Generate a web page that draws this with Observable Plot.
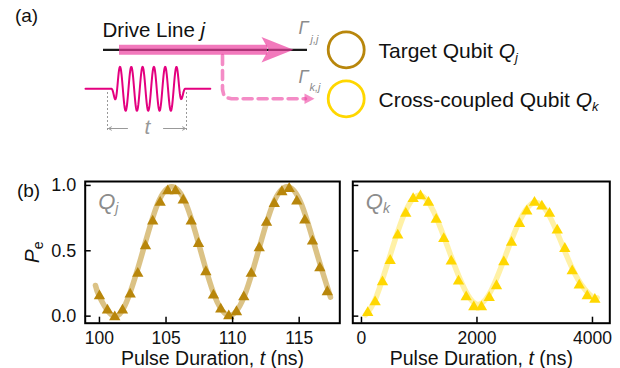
<!DOCTYPE html>
<html><head><meta charset="utf-8">
<script src="https://cdn.jsdelivr.net/npm/d3@7"></script>
<script src="https://cdn.jsdelivr.net/npm/@observablehq/plot@0.6"></script>
<style>
body{margin:0;background:#fff;}
#root{position:relative;width:620px;height:368px;overflow:hidden;font-family:"Liberation Sans",Arial,sans-serif;}
</style></head><body><div id="root"></div>
<script>
// ---------- data: panel Qj ----------
const tJ = [100.0,100.60,101.15,101.73,102.31,102.88,103.46,104.00,104.56,105.13,105.71,106.29,106.89,107.44,107.99,108.56,109.11,109.71,110.29,110.84,111.40,112.00,112.55,113.13,113.70,114.25,114.82,115.42,116.00,116.55,117.11];
const pJ = [0.166,0.057,0.005,0.057,0.179,0.337,0.549,0.738,0.880,0.969,0.969,0.898,0.738,0.566,0.350,0.171,0.064,0.013,0.044,0.158,0.337,0.533,0.727,0.872,0.962,0.987,0.891,0.745,0.585,0.380,0.197];
const fitTJ = [99.7,100.02,101.1,102.18,103.27,104.35,105.43,106.52,107.6,108.68,109.77,110.85,111.94,113.02,114.1,115.18,116.27,117.35];
const fitPJ = [0.235,0.146,0.0,0.146,0.5,0.854,0.99,0.854,0.5,0.146,0.005,0.146,0.5,0.854,0.99,0.854,0.5,0.146];
// ---------- data: panel Qk ----------
const tK = [109,237,364,497,629,767,895,1022,1160,1294,1425,1554,1680,1813,1945,2078,2212,2338,2465,2598,2737,2863,2996,3123,3256,3390,3521,3649,3771,3909,4041];
const pK = [0.038,0.120,0.273,0.436,0.630,0.796,0.910,0.931,0.880,0.750,0.604,0.432,0.278,0.158,0.082,0.082,0.153,0.243,0.426,0.574,0.719,0.814,0.880,0.852,0.796,0.669,0.528,0.357,0.248,0.166,0.138];
const fitTK = [70,250,500,750,1000,1250,1500,1750,2000,2250,2500,2750,3000,3250,3500,3750,4000,4080];
const fitPK = [0.01,0.14,0.47,0.79,0.925,0.80,0.52,0.24,0.09,0.20,0.47,0.74,0.87,0.77,0.52,0.28,0.145,0.14];
// ---------- ticks / labels ----------
const xTicksJ = [100,105,110,115];
const xTicksK = [0,2000,4000];
const yTicks = [0,0.5,1.0];
const xLabel = "Pulse Duration, t (ns)";
const yLabel = "Pe";

const FONT = '"Liberation Sans", Arial, Helvetica, sans-serif';
const RICH = {
  "Pe": '<tspan font-style="italic">P</tspan><tspan font-size="14" dy="4">e</tspan>',
  "Qj": '<tspan font-style="italic">Q</tspan><tspan font-style="italic" font-size="14" dy="4">j</tspan>',
  "Qk": '<tspan font-style="italic">Q</tspan><tspan font-style="italic" font-size="14" dy="4">k</tspan>',
  "Pulse Duration, t (ns)": 'Pulse Duration, <tspan font-style="italic">t</tspan> (ns)',
  "Drive Line j": 'Drive Line <tspan font-style="italic">j</tspan>',
  "Target Qubit Qj": 'Target Qubit <tspan font-style="italic">Q</tspan><tspan font-style="italic" font-size="13" dy="4">j</tspan>',
  "Cross-coupled Qubit Qk": 'Cross-coupled Qubit <tspan font-style="italic">Q</tspan><tspan font-style="italic" font-size="13" dy="4">k</tspan>'
};
function rich(el){
  d3.select(el).selectAll("text").each(function(){
    const h = RICH[this.textContent];
    if (h) this.innerHTML = h;
  });
}
const root = document.getElementById("root");
function place(el, left, top){
  el.style.position = "absolute"; el.style.left = left + "px"; el.style.top = top + "px";
  el.style.background = "transparent"; el.style.overflow = "visible";
  rich(el); root.appendChild(el);
}

// ---------- schematic (a) ----------
const gold = "#b8860b", yellow = "#ffd700", pink = "#ec40a0", magenta = "#e4007f", gray = "#8c8c8c";
const driveLine = [{x1:103, x2:307, y:49.3}];
const shaft = [{x1:119, x2:267, y:49.3}];
const head = [{x:261,y:36.5},{x:293,y:49.3},{x:261,y:62},{x:268,y:49.3}];
const dashPath = [{x:222,y:55},{x:222,y:89},{x:223.2,y:94},{x:226.5,y:97.2},{x:231,y:98.3},{x:305,y:98.3}];
const dashHead = [{x:304,y:93},{x:314,y:98.3},{x:304,y:103.6}];
const qubits = [{x:345.7,y:49.3,c:gold},{x:345.7,y:98.3,c:yellow}];
const ramp = (a,b,v) => v<=a?0:v>=b?1:0.5-0.5*Math.cos(Math.PI*(v-a)/(b-a));
const pulse = d3.range(85, 210.01, 0.4).map(x => {
  const env = ramp(110,119,x)*(1-ramp(176,186,x));
  return {x, y: 88.3 - 22*env*Math.sin(2*Math.PI*(x-116.675)/11.3)};
});
const guides = [{x:107},{x:186}];
const tArrows = [{x1:127,x2:108,y:128},{x1:163,x2:185,y:128}];

const schem = Plot.plot({
  width: 620, height: 150, margin: 0,
  x: {type: "identity", axis: null}, y: {type: "identity", axis: null},
  style: {fontFamily: FONT, background: "transparent"},
  marks: [
    Plot.text(["(a)"], {x: 26, y: 21, lineAnchor: "bottom", fontSize: 19, fill: "#111"}),
    Plot.text(["Drive Line j"], {x: 102, y: 36, lineAnchor: "bottom", textAnchor: "start", fontSize: 20.5, fill: "#111"}),
    Plot.ruleY(driveLine, {x1: "x1", x2: "x2", y: "y", stroke: "#1a1a1a", strokeWidth: 2.2}),
    Plot.ruleY(shaft, {x1: "x1", x2: "x2", y: "y", stroke: pink, strokeOpacity: 0.7, strokeWidth: 10}),
    Plot.line(head, {x: "x", y: "y", fill: pink, fillOpacity: 0.7, stroke: "none"}),
    Plot.line(dashPath, {x: "x", y: "y", stroke: pink, strokeOpacity: 0.6, strokeWidth: 3.6, strokeDasharray: "9,6"}),
    Plot.line(dashHead, {x: "x", y: "y", fill: pink, fillOpacity: 0.6, stroke: "none"}),
    Plot.line(pulse, {x: "x", y: "y", stroke: magenta, strokeWidth: 2}),
    Plot.ruleX(guides, {x: "x", y1: 92, y2: 132, stroke: "#999", strokeWidth: 1, strokeDasharray: "2,2"}),
    Plot.arrow(tArrows, {x1: "x1", x2: "x2", y1: "y", y2: "y", stroke: "#999", strokeWidth: 1, headLength: 5}),
    Plot.text(["t"], {x: 147, y: 133.5, lineAnchor: "bottom", fontSize: 21, fontStyle: "italic", fill: "#999"}),
    Plot.text(["Γ"], {x: 298, y: 33.3, lineAnchor: "bottom", textAnchor: "start", fontSize: 18, fontStyle: "italic", fill: gray}),
    Plot.text(["j,j"], {x: 310, y: 42.5, lineAnchor: "bottom", textAnchor: "start", fontSize: 11, fontStyle: "italic", fill: gray}),
    Plot.text(["Γ"], {x: 298, y: 82, lineAnchor: "bottom", textAnchor: "start", fontSize: 18, fontStyle: "italic", fill: gray}),
    Plot.text(["k,j"], {x: 309, y: 90.5, lineAnchor: "bottom", textAnchor: "start", fontSize: 11, fontStyle: "italic", fill: gray}),
    Plot.dot(qubits, {x: "x", y: "y", r: 18, stroke: "c", strokeWidth: 2.8, fill: "none"}),
    Plot.text(["Target Qubit Qj"], {x: 378, y: 57.3, lineAnchor: "bottom", textAnchor: "start", fontSize: 21, fill: "#111"}),
    Plot.text(["Cross-coupled Qubit Qk"], {x: 378, y: 106.7, lineAnchor: "bottom", textAnchor: "start", fontSize: 21, fill: "#111"})
  ]
});
place(schem, 0, 0);

// ---------- panels (b) ----------
function panel({t, p, fitT, fitP, color, lineOpacity, xDomain, xTicks, showY, qLabel, width, mLeft, mRight, extra}) {
  const height = 208, mTop = 21, mBottom = 45.3;
  const yDom = [-0.054, 1.03];
  const fh = height - mTop - mBottom, fw = width - mLeft - mRight;
  const dyT = 6 * (yDom[1] - yDom[0]) / fh;
  const dxT = 6 * (xDomain[1] - xDomain[0]) / fw;
  const pts = t.map((d, i) => ({t: d, p: p[i]}));
  const fit = fitT.map((d, i) => ({t: d, p: fitP[i]}));
  const marks = [
    Plot.line(fit, {x: "t", y: "p", curve: "natural", stroke: color, strokeOpacity: lineOpacity, strokeWidth: 5.5}),
    Plot.dot(pts, {x: "t", y: "p", symbol: "triangle", r: 4.2, fill: color, stroke: "none", dy: 1.5}),
    Plot.frame({stroke: "#000", strokeWidth: 2}),
    Plot.ruleX(xTicks, {x: d => d, y1: yDom[0], y2: yDom[0] + dyT, stroke: "#000", strokeWidth: 1.5}),
    Plot.ruleY(yTicks, {y: d => d, x1: xDomain[0], x2: xDomain[0] + dxT, stroke: "#000", strokeWidth: 1.5}),
    Plot.axisX(xTicks, {tickSize: 0, tickPadding: 8, fontSize: 17.5, fill: "#111", label: null, tickFormat: d3.format("d")}),
    Plot.text([qLabel], {frameAnchor: "top-left", dx: 13, dy: 27, lineAnchor: "bottom", textAnchor: "start", fill: "#8c8c8c", fontSize: 22}),
    Plot.text([xLabel], {frameAnchor: "bottom", dy: 41.8, lineAnchor: "bottom", textAnchor: "middle", fontSize: 19.5, fill: "#111"})
  ];
  if (showY) marks.push(Plot.axisY(yTicks, {tickSize: 0, tickPadding: 9, fontSize: 18, fill: "#111", label: null, tickFormat: d3.format(".1f")}));
  if (extra) marks.push(...extra);
  return Plot.plot({
    width, height, marginLeft: mLeft, marginRight: mRight, marginTop: mTop, marginBottom: mBottom,
    x: {domain: xDomain, axis: null}, y: {domain: yDom, axis: null},
    style: {fontFamily: FONT, background: "transparent", overflow: "visible"},
    marks
  });
}

const left = panel({
  t: tJ, p: pJ, fitT: fitTJ, fitP: fitPJ, color: gold, lineOpacity: 0.5,
  xDomain: [98.93, 118.05], xTicks: xTicksJ, showY: true, qLabel: "Qj",
  width: 345, mLeft: 84.7, mRight: 5.7,
  extra: [
    Plot.text(["(b)"], {frameAnchor: "top-left", dx: -56.7, dy: 9, textAnchor: "middle", lineAnchor: "middle", fontSize: 19, fill: "#111"}),
    Plot.text([yLabel], {frameAnchor: "left", dx: -52.7, rotate: -90, textAnchor: "middle", lineAnchor: "middle", fontSize: 21, fill: "#111"})
  ]
});
place(left, 0, 160);

const right = panel({
  t: tK, p: pK, fitT: fitTK, fitP: fitPK, color: yellow, lineOpacity: 0.35,
  xDomain: [-150, 4300], xTicks: xTicksK, showY: false, qLabel: "Qk",
  width: 275, mLeft: 7.3, mRight: 10.7
});
place(right, 345, 160);
</script></body></html>
